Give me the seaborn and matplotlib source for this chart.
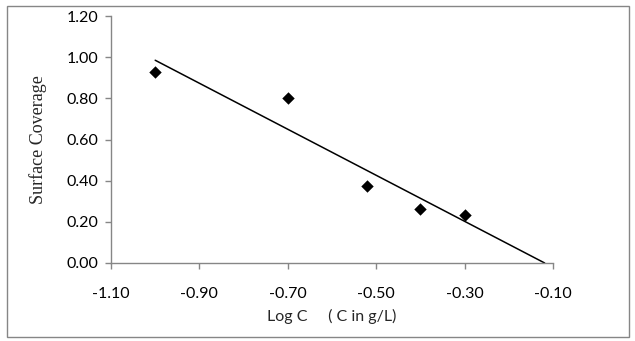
import numpy as np
import pandas as pd
import matplotlib
matplotlib.use('Agg')
import matplotlib.pyplot as plt
import seaborn as sns

# dados
log_c = [-1.00, -0.70, -0.52, -0.40, -0.30]
coverage = [0.93, 0.80, 0.375, 0.26, 0.235]
x_ticks = [-1.10, -0.90, -0.70, -0.50, -0.30, -0.10]
y_ticks = [0.00, 0.20, 0.40, 0.60, 0.80, 1.00, 1.20]

df = pd.DataFrame({'logc': log_c, 'theta': coverage})

sns.set_style('white')
plt.rcParams['font.family'] = ['Lato', 'DejaVu Sans']

fig = plt.figure(figsize=(6.35, 3.41), dpi=100)
ax = fig.add_axes([111/635, 1 - 263/341, 442/635, 247/341])

# linha de tendência linear (estendida até y = 0)
a, b = np.polyfit(df['logc'], df['theta'], 1)
x_end = -b / a
xs = np.array([df['logc'].min(), x_end])
ax.plot(xs, a * xs + b, color='black', lw=1.1, zorder=2)

sns.scatterplot(x='logc', y='theta', data=df, ax=ax, marker='D', s=40,
                color='black', edgecolor='black', linewidth=0, zorder=3)

ax.set_xlim(-1.10, -0.10)
ax.set_ylim(0, 1.20)
ax.set_xticks(x_ticks)
ax.set_yticks(y_ticks)
ax.set_xticklabels([f'{v:.2f}' for v in x_ticks])
ax.set_yticklabels([f'{v:.2f}' for v in y_ticks])
ax.tick_params(axis='both', direction='out', length=4, width=1, color='#868686',
               labelsize=11.5, pad=5, labelcolor='black')
ax.tick_params(axis='x', pad=13)
ax.tick_params(left=True, bottom=True)

for side in ['top', 'right']:
    ax.spines[side].set_visible(False)
for side in ['left', 'bottom']:
    ax.spines[side].set_color('#868686')
    ax.spines[side].set_linewidth(1)

ax.set_xlabel('Log C     ( C in g/L)', fontsize=11.5, labelpad=6)
ax.set_ylabel('Surface Coverage', fontsize=13, family=['Liberation Serif'], labelpad=14)

# moldura externa
fig.patches.append(plt.Rectangle((7/635, 4/341), 622/635, 331/341, transform=fig.transFigure,
                                 fill=False, edgecolor='#868686', lw=1))

fig.savefig('out.png', dpi=100)
